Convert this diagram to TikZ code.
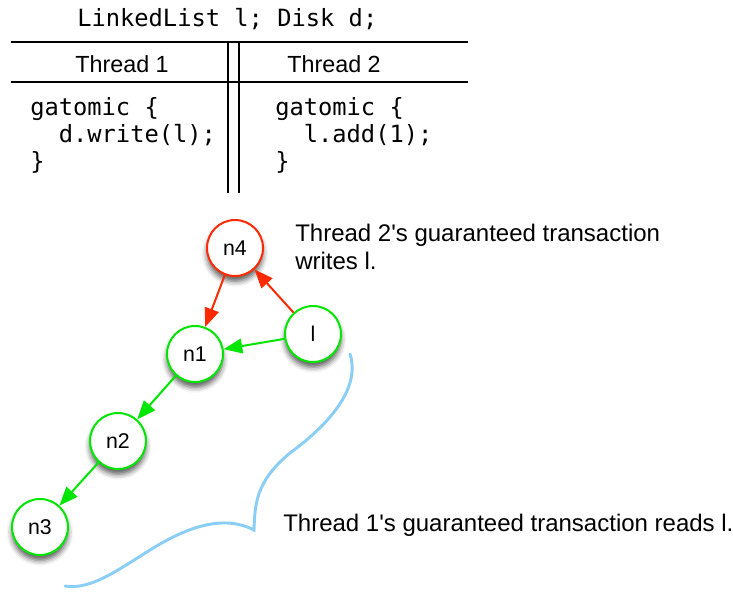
\documentclass[tikz,border=0pt]{standalone}
\usepackage{fontspec}
\setmainfont{Liberation Sans}
\setmonofont{DejaVu Sans Mono}
\usepackage{xcolor}
\usepackage{tikz}
\usetikzlibrary{arrows.meta,shadows.blur}
\definecolor{writecolor}{HTML}{FF2A00}
\definecolor{readcolor}{HTML}{00E600}
\definecolor{bracecolor}{HTML}{8ACEF5}

\begin{document}
\begin{tikzpicture}[
    x=0.75pt, y=-0.75pt,
    rule/.style={line width=1.2pt},
    headtext/.style={anchor=base, inner sep=0pt, font=\fontsize{17.5}{21}\selectfont},
    codetext/.style={anchor=base west, inner sep=0pt, align=left,
                     font=\ttfamily\fontsize{17.8}{20.25}\selectfont},
    note/.style={anchor=base west, inner sep=0pt, align=left,
                 font=\fontsize{18}{20.6}\selectfont},
    listnode/.style={circle, draw=readcolor, line width=1.5pt, fill=white,
                     minimum size=42pt, inner sep=0pt,
                     font=\fontsize{16}{19}\selectfont,
                     blur shadow={shadow xshift=0pt, shadow yshift=-4pt,
                                  shadow blur radius=4pt, shadow opacity=65}},
    writenode/.style={listnode, draw=writecolor},
    readptr/.style={draw=readcolor, line width=1.5pt,
                    -{Triangle[length=14pt, width=11pt]}},
    writeptr/.style={readptr, draw=writecolor},
    brace/.style={draw=bracecolor, line width=2.2pt, line cap=round}
]
\useasboundingbox (0,0) rectangle (733,593);

\node[codetext] (decl) at (77,26) {LinkedList l; Disk d;};
\draw[rule] (11,42) -- (468,42);
\draw[rule] (11,82) -- (468,82);
\draw[rule] (228,42) -- (228,193);
\draw[rule] (239,42) -- (239,193);
\node[headtext] (head1) at (122,72) {Thread 1};
\node[headtext] (head2) at (334,72) {Thread 2};
\node[codetext] (code1) at (30,169) {gatomic \{\\\phantom{xx}d.write(l);\\\}};
\node[codetext] (code2) at (275,169) {gatomic \{\\\phantom{xx}l.add(1);\\\}};

\node[writenode] (n4) at (235,248) {n4};
\node[listnode] (n1) at (195,354) {n1};
\node[listnode] (l) at (313,334) {l};
\node[listnode] (n2) at (118,441) {n2};
\node[listnode] (n3) at (40,527) {n3};

\draw[writeptr] (n4) -- (n1);
\draw[writeptr] (l) -- (n4);
\draw[readptr] (l) -- (n1);
\draw[readptr] (n1) -- (n2);
\draw[readptr] (n2) -- (n3);

\node[note] (writenote) at (295,269.2) {Thread 2\textquotesingle s guaranteed transaction\\writes l.};
\node[note] (readnote) at (283,531.7) {Thread 1\textquotesingle s guaranteed transaction reads l.};

\draw[brace] (350,354) .. controls (360,385) and (335,420) .. (290,453)
    .. controls (255,482) and (255,505) .. (254,530)
    .. controls (225,515) and (190,525) .. (150,550)
    .. controls (115,572) and (90,590) .. (65,586);
\end{tikzpicture}
\end{document}
